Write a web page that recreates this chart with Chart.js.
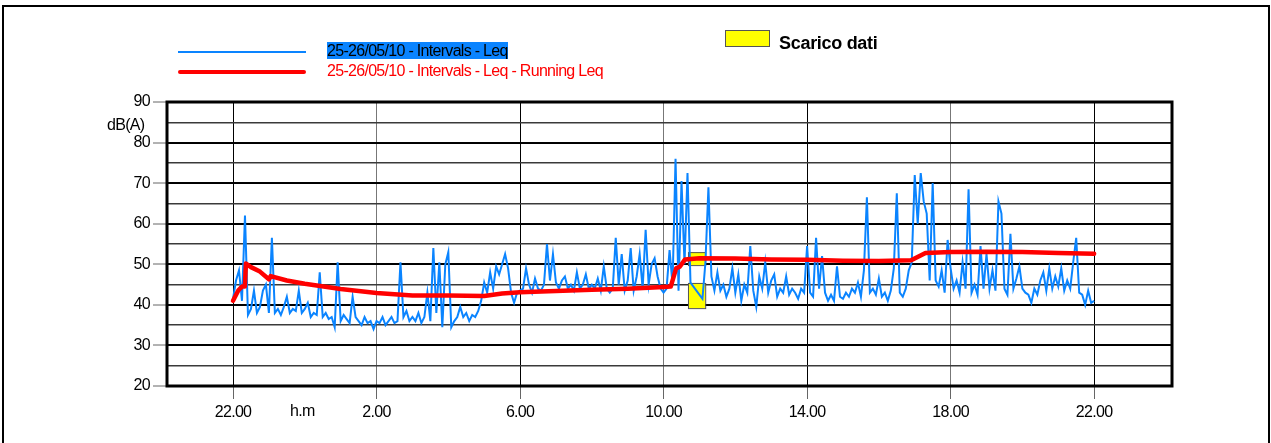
<!DOCTYPE html>
<html>
<head>
<meta charset="utf-8">
<script src="https://cdn.jsdelivr.net/npm/chart.js@4.4.0/dist/chart.umd.min.js"></script>
<style>
  body { margin: 0; background: #fff; font-family: 'Liberation Sans', Arial, sans-serif; }
  #wrap { position: relative; width: 1271px; height: 443px; overflow: hidden; }
  #frame { position: absolute; left: 2px; top: 5px; width: 1264px; height: 470px; border: 2px solid #000; }
  #chart { position: absolute; left: 0; top: 0; }
  .txt { position: absolute; font-size: 16px; line-height: 17px; letter-spacing: -0.7px; white-space: nowrap; }
  .swatch { position: absolute; }
</style>
</head>
<body>
<div id="wrap">
  <div id="frame"></div>
  <canvas id="chart" width="1271" height="443"></canvas>
  <div class="swatch" style="left:178px;top:51px;width:128px;height:2px;background:#0a84ff;"></div>
  <div class="swatch" style="left:178px;top:70px;width:128px;height:4px;border-radius:2px;background:#ff0000;"></div>
  <div class="txt" style="left:327px;top:42px;background:#0a84ff;color:#000;">25-26/05/10 - Intervals - Leq</div>
  <div class="txt" style="left:327px;top:62px;color:#ff0000;">25-26/05/10 - Intervals - Leq - Running Leq</div>
  <div class="swatch" style="left:725px;top:30px;width:43px;height:15px;background:#ffff00;border:1px solid #555;"></div>
  <div class="txt" style="left:779px;top:34px;font-size:18px;line-height:18px;font-weight:bold;letter-spacing:-0.3px;">Scarico dati</div>
  <div class="txt" style="left:107px;top:116px;">dB(A)</div>
  <div class="txt" style="left:290px;top:402px;">h.m</div>
</div>
<script>
// hours counted from 22.00 of 25/05
const hourTicks = [0, 4, 8, 12, 16, 20, 24];
const dbTicks = [20, 25, 30, 35, 40, 45, 50, 55, 60, 65, 70, 75, 80, 85, 90];
const intervalMinutes = 5;

// Leq every 5 minutes, one row per hour (22.00 -> 22.00)
const leqValues = [
  41.5, 46, 48.5, 41, 62, 37.5, 39, 43.5, 38, 39.5, 43.5, 45,      // 22
  38, 56.5, 38, 39, 37.5, 39.5, 42, 38, 39, 38.5, 43.5, 38,        // 23
  39, 40.5, 37, 38, 37.5, 48, 37, 38, 36.5, 37, 34.5, 50.5,        // 0
  36, 37.5, 36.5, 35.5, 42, 37, 36, 35, 37, 35.5, 36, 34,          // 1
  36, 35.5, 37, 35, 36, 37, 35.5, 36, 50.5, 37, 38.5, 36,          // 2
  37, 36, 38, 35.5, 37, 43, 36, 54, 38, 50.5, 34.5, 50,            // 3
  53, 34.5, 36, 37, 39.5, 37, 38, 36, 37.5, 37, 38.5, 41,          // 4
  45.5, 43, 48, 44, 49.5, 47.5, 50, 52.5, 49, 43, 40.5, 43,        // 5
  43.5, 44, 49, 45, 43, 46.5, 44, 43.5, 45, 55, 46, 52.5,          // 6
  45.5, 44, 46, 47, 44, 45, 43.5, 48, 44, 45, 47.5, 44,            // 7
  45, 44, 46.5, 43.5, 49.5, 44, 43, 44, 56.5, 45, 52.5, 43.5,      // 8
  46, 54, 43.5, 47, 52.5, 44, 58.5, 45, 50, 51.5, 47, 44,          // 9
  43, 44, 53.5, 45, 76, 43.5, 70.5, 50, 72.5, 45.5, null, null,    // 10
  null, 41.5, 50.5, 69, 47, 43.5, 48, 43.5, 45, 42, 44, 49,        // 11
  43, 47.5, 41, 45, 43, 54.5, 43.5, 39.5, 47, 44, 50.5, 43,        // 12
  46, 47.5, 42, 44, 43, 47, 42.5, 44, 43, 41.5, 44, 43,            // 13
  54.5, 43, 42, 56.5, 44, 52, 43, 41, 42.5, 41, 49.5, 42,          // 14
  41.5, 43, 42, 44, 43, 45.5, 42, 48.5, 66.5, 43, 44, 42.5,        // 15
  46.5, 42, 43, 41, 43.5, 49, 67.5, 43, 42, 44, 48.5, 50.5,        // 16
  72, 60, 72.5, 65.5, 62.5, 46, 70, 46, 44.5, 48.5, 43, 56,        // 17
  49, 44, 46, 43, 50.5, 44, 68.5, 43, 45, 42.5, 54.5, 44,          // 18
  52.5, 44, 48.5, 43.5, 65.5, 62.5, 44, 42.5, 57.5, 44, 46.5, 49.5,// 19
  44, 43, 42.5, 40.5, 44, 42.5, 46, 48, 43.5, 49, 44, 47,          // 20
  44.5, 49, 43.5, 46, 44, 50.5, 56.5, 43, 42.5, 40, 43.5, 40.5,    // 21
  41                                                               // 22
];

const runningHours = [0, 0.15, 0.25, 0.33, 0.36, 0.5, 0.75, 1.0, 1.05, 1.5, 2, 3, 4, 5, 6, 7, 7.5, 8, 9, 10,
  11, 12, 12.2, 12.35, 12.45, 12.6, 13, 14, 15, 16, 17, 18, 18.9, 19.3, 20, 21, 22, 23, 24];
const runningLeq = [41.0, 43.6, 44.5, 44.5, 50.2, 49.3, 48.2, 46.3, 47.1, 46.0, 45.2, 43.9, 42.9, 42.3, 42.3, 42.2, 42.8, 43.1, 43.4, 43.7,
  44.0, 44.4, 44.5, 49.0, 49.4, 51.2, 51.5, 51.4, 51.2, 51.1, 50.9, 50.8, 51.0, 52.8, 53.0, 53.1, 53.0, 52.8, 52.6];

// data download period (Scarico dati)
const downloadFrom = 12.68, downloadTo = 13.16;
const downloadBands = [[49.8, 53.0], [39.2, 45.4]];

const font = { family: "'Liberation Sans', Arial, sans-serif", size: 16 };

const framePlugin = {
  id: 'frame',
  beforeDraw(chart) {
    chart.ctx.letterSpacing = '-0.7px';
  },
  beforeDatasetsDraw(chart) {
    const { ctx, scales: { x, y } } = chart;
    ctx.save();
    ctx.fillStyle = '#ffff00';
    ctx.strokeStyle = '#555';
    ctx.lineWidth = 1;
    downloadBands.forEach(b => {
      const l = x.getPixelForValue(downloadFrom), r = x.getPixelForValue(downloadTo);
      const t = y.getPixelForValue(b[1]), btm = y.getPixelForValue(b[0]);
      ctx.fillRect(l, t, r - l, btm - t);
      ctx.strokeRect(l + 0.5, t + 0.5, r - l, btm - t);
    });
    ctx.restore();
  },
  afterDraw(chart) {
    const { ctx, chartArea: a } = chart;
    ctx.save();
    ctx.strokeStyle = '#000';
    ctx.lineWidth = 3;
    ctx.strokeRect(a.left, a.top, a.right - a.left, a.bottom - a.top);
    ctx.restore();
  }
};

new Chart(document.getElementById('chart'), {
  type: 'line',
  data: {
    datasets: [{
      label: '25-26/05/10 - Intervals - Leq - Running Leq',
      data: runningHours.map((h, i) => ({ x: h, y: runningLeq[i] })),
      borderColor: '#ff0000',
      borderWidth: 4.5,
      borderCapStyle: 'round',
      borderJoinStyle: 'round',
      pointRadius: 0
    }, {
      label: '25-26/05/10 - Intervals - Leq',
      data: leqValues.map((v, i) => ({ x: i * intervalMinutes / 60, y: v })),
      borderColor: '#0a84ff',
      borderWidth: 2,
      pointRadius: 0,
      spanGaps: true
    }]
  },
  options: {
    responsive: false,
    animation: false,
    devicePixelRatio: 1,
    layout: { padding: { left: 100, top: 102, right: 99, bottom: 0 } },
    plugins: { legend: { display: false }, tooltip: { enabled: false } },
    scales: {
      x: {
        type: 'linear',
        min: -1.84,
        max: 26.17,
        afterBuildTicks: s => { s.ticks = hourTicks.map(v => ({ value: v })); },
        afterFit: s => { s.height = 57; },
        border: { display: false },
        grid: {
          color: c => (c.index % 2 === 0 ? '#000' : '#777'),
          lineWidth: 1,
          tickLength: 13,
          tickColor: '#666'
        },
        ticks: {
          color: '#000',
          font: font,
          padding: 4,
          maxRotation: 0,
          autoSkip: false,
          callback: v => ((22 + v) % 24) + '.00'
        }
      },
      y: {
        min: 20,
        max: 90,
        afterBuildTicks: s => { s.ticks = dbTicks.map(v => ({ value: v })); },
        afterFit: s => { s.width = 67; },
        border: { display: false },
        grid: {
          color: c => (c.tick.value % 10 === 0 ? '#000' : '#3a3a3a'),
          lineWidth: c => (c.tick.value % 10 === 0 ? 2 : 1.5),
          tickLength: 14,
          tickWidth: 1,
          tickColor: c => (c.tick.value % 10 === 0 ? '#666' : 'rgba(0,0,0,0)')
        },
        ticks: {
          color: '#000',
          font: font,
          padding: 3,
          autoSkip: false,
          callback: v => (v % 10 === 0 ? v : '')
        }
      }
    }
  },
  plugins: [framePlugin]
});
</script>
</body>
</html>
